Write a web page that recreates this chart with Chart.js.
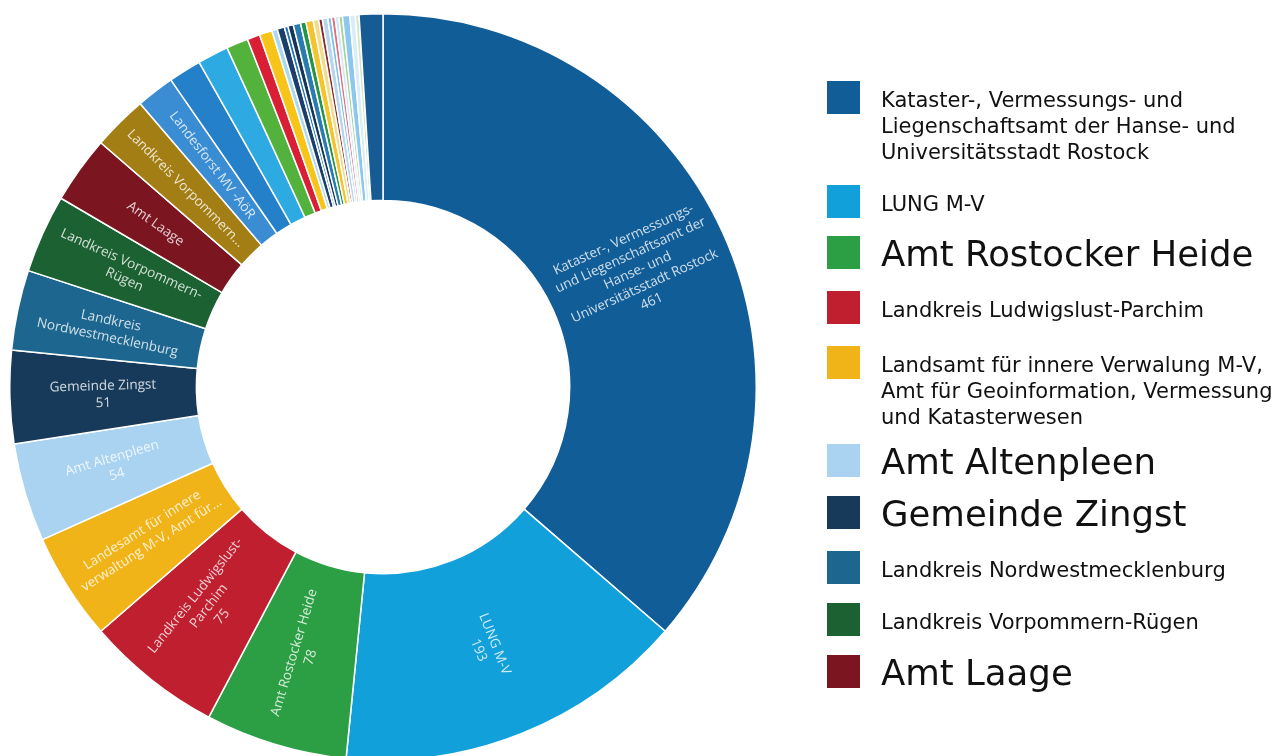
<!DOCTYPE html>
<html>
<head>
<meta charset="utf-8">
<title>Doughnut</title>
<script src="https://cdn.jsdelivr.net/npm/chart.js@4/dist/chart.umd.min.js"></script>
<style>
  html, body { margin: 0; padding: 0; background: #fff; overflow: hidden; }
  body { width: 1279px; height: 756px; position: relative; }
  #chartBox { position: absolute; left: 9px; top: 13px; width: 748px; height: 748px; }
  #legend { position: absolute; left: 0; top: 0; width: 1279px; height: 756px; pointer-events: none; }
  .row { position: absolute; left: 827px; }
  .sw { position: absolute; left: 0; top: 0; width: 33px; height: 33px; }
  .txt { position: absolute; left: 54px; width: 412px; font-family: "DejaVu Sans", sans-serif; color: #111; }
</style>
</head>
<body>
<div id="chartBox"><canvas id="myChart"></canvas></div>
<div id="legend"></div>
<script>
'use strict';

// names as printed in the legend (the small slices carry no readable name)
const categories = [
  'Kataster-, Vermessungs- und Liegenschaftsamt der Hanse- und Universitätsstadt Rostock',
  'LUNG M-V',
  'Amt Rostocker Heide',
  'Landkreis Ludwigslust-Parchim',
  'Landsamt für innere Verwalung M-V, Amt für Geoinformation, Vermessung und Katasterwesen',
  'Amt Altenpleen',
  'Gemeinde Zingst',
  'Landkreis Nordwestmecklenburg',
  'Landkreis Vorpommern-Rügen',
  'Amt Laage',
  'Landkreis Vorpommern-Greifswald',
  'Landesforst MV -AöR',
  '', '', '', '', '',
  '', '', '', '', '', '', '', '', '', '', '', '', '', '', '', '', '',
  ''
];

const values = [
  461, 193, 78, 75, 59, 54, 51, 44, 43, 37, 30, 21,
  18, 17, 12, 7, 7,
  3, 4, 2, 3, 4, 3, 4, 3, 2, 3, 2, 2, 2, 2, 4, 3, 2,
  13
];

// text written inside the slices
const sliceLabels = [
  ['Kataster-, Vermessungs-', 'und Liegenschaftsamt der', 'Hanse- und', 'Universitätsstadt Rostock', '461'],
  ['LUNG M-V', '193'],
  ['Amt Rostocker Heide', '78'],
  ['Landkreis Ludwigslust-', 'Parchim', '75'],
  ['Landesamt für innere', 'verwaltung M-V, Amt für...'],
  ['Amt Altenpleen', '54'],
  ['Gemeinde Zingst', '51'],
  ['Landkreis', 'Nordwestmecklenburg'],
  ['Landkreis Vorpommern-', 'Rügen'],
  ['Amt Laage'],
  ['Landkreis Vorpommern...'],
  ['Landesforst MV -AöR']
];

const legendCount = 10;

// --- styles ---
const colors = [
  '#115d98', '#12a0da', '#2c9f45', '#bf1f2f', '#f1b418', '#a9d3f0', '#173a5a', '#1c6690',
  '#1c6131', '#7b1520', '#a37e14', '#3a8dd2',
  '#2480c8', '#2eaae2', '#52b23c', '#d81f36', '#f7c51a',
  '#a9d8f2', '#1b3e6b', '#2576b8', '#163659', '#2a7cae', '#24944a', '#f5c32c', '#f2dc8c',
  '#8a2a2a', '#b7d5ee', '#7fbfe8', '#e07080', '#cfe6f5', '#a8d49a', '#8cc8ee', '#d9ecf8', '#d2e8c8',
  '#165b94'
];
const legendBig = [false, false, true, false, false, true, true, false, false, true];
const legendTop = [81, 185, 236, 291, 346, 444, 496, 551, 603, 655];

// plugin writing the labels along the radius of each slice
const sliceText = {
  id: 'sliceText',
  afterDatasetsDraw(chart) {
    const ctx = chart.ctx;
    const arcs = chart.getDatasetMeta(0).data;
    ctx.save();
    ctx.font = '13.5px "Open Sans", sans-serif';
    ctx.fillStyle = 'rgba(255,255,255,0.8)';
    ctx.textAlign = 'center';
    ctx.textBaseline = 'middle';
    for (let i = 0; i < sliceLabels.length; i++) {
      const a = arcs[i];
      if (!a) continue;
      const p = a.getProps(['x', 'y', 'startAngle', 'endAngle', 'innerRadius', 'outerRadius'], true);
      const mid = (p.startAngle + p.endAngle) / 2;
      const r = (p.innerRadius + p.outerRadius) / 2;
      let rot = mid;
      if (Math.cos(mid) < 0) rot = mid + Math.PI;
      const lines = sliceLabels[i];
      const lh = 17;
      ctx.save();
      ctx.translate(p.x + Math.cos(mid) * r, p.y + Math.sin(mid) * r);
      ctx.rotate(rot);
      for (let k = 0; k < lines.length; k++) {
        ctx.fillText(lines[k], 0, (k - (lines.length - 1) / 2) * lh);
      }
      ctx.restore();
    }
    ctx.restore();
  }
};

const chart = new Chart(document.getElementById('myChart'), {
  type: 'doughnut',
  data: {
    labels: categories,
    datasets: [{
      data: values,
      backgroundColor: colors,
      borderColor: '#ffffff',
      borderWidth: 1.5
    }]
  },
  options: {
    responsive: true,
    maintainAspectRatio: false,
    animation: false,
    cutout: '50%',
    layout: { padding: 0 },
    plugins: {
      legend: { display: false },
      tooltip: { enabled: false }
    }
  },
  plugins: [sliceText]
});

// html legend for the first entries, built from the chart data
const legendEl = document.getElementById('legend');
for (let i = 0; i < legendCount; i++) {
  const row = document.createElement('div');
  row.className = 'row';
  row.style.top = legendTop[i] + 'px';
  const sw = document.createElement('div');
  sw.className = 'sw';
  sw.style.background = chart.data.datasets[0].backgroundColor[i];
  const t = document.createElement('div');
  t.className = 'txt';
  if (legendBig[i]) {
    t.style.fontSize = '35.5px';
    t.style.lineHeight = '40px';
    t.style.top = '-2px';
  } else {
    t.style.fontSize = '21px';
    t.style.lineHeight = '26px';
    t.style.top = '6px';
  }
  t.textContent = chart.data.labels[i];
  row.appendChild(sw);
  row.appendChild(t);
  legendEl.appendChild(row);
}
</script>
</body>
</html>
